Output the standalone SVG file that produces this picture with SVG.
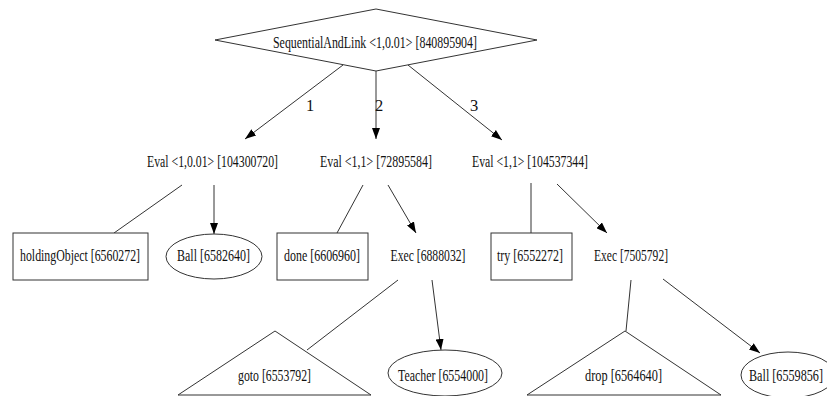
<svg xmlns="http://www.w3.org/2000/svg" width="827" height="396" viewBox="0 0 827 396">
<style>
text{font-family:"Liberation Serif","Times New Roman",serif;font-size:16.5px;fill:#111;text-anchor:middle}
.s{fill:#fff;stroke:#333;stroke-width:1}
.e{fill:none;stroke:#333;stroke-width:1}
</style>
<defs>
<marker id="ah" markerUnits="userSpaceOnUse" markerWidth="11" markerHeight="8" refX="11" refY="4" orient="auto">
<path d="M0,0 L11,4 L0,8 z" fill="#000"/>
</marker>
</defs>
<rect width="827" height="396" fill="#fff"/>
<g id="connectors">
<line class="e" x1="343" y1="65" x2="245" y2="139" marker-end="url(#ah)"/>
<line class="e" x1="376" y1="71" x2="376" y2="139" marker-end="url(#ah)"/>
<line class="e" x1="408" y1="65" x2="502" y2="140" marker-end="url(#ah)"/>
<text x="310" y="111">1</text>
<text x="379" y="111">2</text>
<text x="474" y="111">3</text>
<line class="e" x1="182" y1="185" x2="114" y2="233"/>
<line class="e" x1="214" y1="185" x2="214" y2="234" marker-end="url(#ah)"/>
<line class="e" x1="363" y1="185" x2="337" y2="233"/>
<line class="e" x1="388" y1="185" x2="416" y2="233" marker-end="url(#ah)"/>
<line class="e" x1="531" y1="183" x2="531" y2="233"/>
<line class="e" x1="557" y1="184" x2="607" y2="233" marker-end="url(#ah)"/>
<line class="e" x1="398" y1="280" x2="307" y2="350"/>
<line class="e" x1="432" y1="280" x2="441" y2="350" marker-end="url(#ah)"/>
<line class="e" x1="631" y1="280" x2="626" y2="331"/>
<line class="e" x1="663" y1="279" x2="760" y2="353" marker-end="url(#ah)"/>
</g>
<g id="n0">
<polygon class="s" points="376,9 537,40 376,71 215,40"/>
<text x="375" y="48" textLength="204" lengthAdjust="spacingAndGlyphs">SequentialAndLink &lt;1,0.01&gt; [840895904]</text>
</g>
<g id="n1"><text x="212.5" y="167" textLength="131" lengthAdjust="spacingAndGlyphs">Eval &lt;1,0.01&gt; [104300720]</text></g>
<g id="n2"><text x="376" y="167" textLength="112" lengthAdjust="spacingAndGlyphs">Eval &lt;1,1&gt; [72895584]</text></g>
<g id="n3"><text x="530" y="167" textLength="116" lengthAdjust="spacingAndGlyphs">Eval &lt;1,1&gt; [104537344]</text></g>
<g id="n4">
<rect class="s" x="13" y="233" width="135" height="47"/>
<text x="80" y="261" textLength="120" lengthAdjust="spacingAndGlyphs">holdingObject [6560272]</text>
</g>
<g id="n5">
<ellipse class="s" cx="214" cy="256.5" rx="48" ry="22.5"/>
<text x="213.5" y="261" textLength="73" lengthAdjust="spacingAndGlyphs">Ball [6582640]</text>
</g>
<g id="n6">
<rect class="s" x="277" y="233" width="91" height="47"/>
<text x="322" y="261" textLength="76" lengthAdjust="spacingAndGlyphs">done [6606960]</text>
</g>
<g id="n7"><text x="428" y="261" textLength="75" lengthAdjust="spacingAndGlyphs">Exec [6888032]</text></g>
<g id="n8">
<rect class="s" x="491" y="233" width="81" height="47"/>
<text x="530" y="261" textLength="66" lengthAdjust="spacingAndGlyphs">try [6552272]</text>
</g>
<g id="n9"><text x="631" y="261" textLength="74" lengthAdjust="spacingAndGlyphs">Exec [7505792]</text></g>
<g id="n10">
<polygon class="s" points="275,331 371,395 178,395"/>
<text x="274.5" y="381" textLength="73" lengthAdjust="spacingAndGlyphs">goto [6553792]</text>
</g>
<g id="n11">
<ellipse class="s" cx="445" cy="373" rx="57" ry="23"/>
<text x="443" y="381" textLength="90" lengthAdjust="spacingAndGlyphs">Teacher [6554000]</text>
</g>
<g id="n12">
<polygon class="s" points="625,331 721,395 527,395"/>
<text x="623.5" y="381" textLength="77" lengthAdjust="spacingAndGlyphs">drop [6564640]</text>
</g>
<g id="n13">
<ellipse class="s" cx="788" cy="375" rx="47" ry="23"/>
<text x="786" y="381" textLength="74" lengthAdjust="spacingAndGlyphs">Ball [6559856]</text>
</g>
</svg>
